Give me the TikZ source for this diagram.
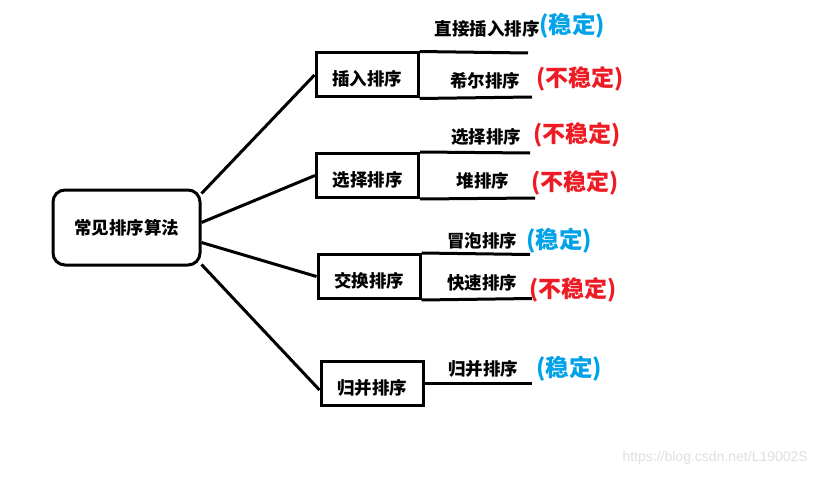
\documentclass[tikz,border=0pt]{standalone}
\usepackage{fontspec}
\newfontfamily\cjk{Noto Sans CJK SC}
\newfontfamily\wmfont{Liberation Sans}
\usepackage{tikz}
\usetikzlibrary{positioning, calc}

\definecolor{stableblue}{RGB}{0,162,232}
\definecolor{unstablered}{RGB}{237,28,36}

\begin{document}
\begin{tikzpicture}[x=1pt, y=-1pt,
  rootbox/.style={draw, line width=3pt, rounded corners=12pt, minimum width=147pt,
    minimum height=75pt, font=\cjk\bfseries\fontsize{17.5}{20}\selectfont},
  catbox/.style={draw, line width=3pt, minimum width=102pt, minimum height=44pt,
    text height=25pt, text depth=3pt, font=\cjk\bfseries\fontsize{17.5}{20}\selectfont},
  algo/.style={inner sep=0pt, font=\cjk\bfseries\fontsize{17.5}{20}\selectfont},
  stable/.style={anchor=west, inner sep=0pt, text=stableblue,
    font=\cjk\bfseries\fontsize{23.5}{26}\selectfont},
  unstable/.style={anchor=west, inner sep=0pt, text=unstablered,
    font=\cjk\bfseries\fontsize{23}{26}\selectfont},
  link/.style={line width=3pt}
]
\useasboundingbox[fill=white] (0,0) rectangle (818,476);

% root and the four groups
\node[rootbox] (root) at (126.5,227.5) {常见排序算法};
\node[catbox] (ins) at (367,75) {插入排序};
\node[catbox] (sel) at (367.5,175.5) {选择排序};
\node[catbox] (exc) at (369,276.5) {交换排序};
\node[catbox] (mer) at (372,383) {归并排序};

\draw[link] ([yshift=34]root.east) -- (ins.west);
\draw[link] ([yshift=5]root.east) -- (sel.west);
\draw[link] ([yshift=-15]root.east) -- (exc.west);
\draw[link] ([yshift=-37]root.east) -- ([yshift=-7]mer.west);

% branch ends
\coordinate (insA) at (528,53);
\coordinate (insB) at (532,97);
\coordinate (selA) at (530,153);
\coordinate (selB) at (535,198);
\coordinate (excA) at (530,254.5);
\coordinate (excB) at (532,298.5);
\coordinate (merA) at (532,383);

\draw[link] (ins.north east) -- (insA);
\draw[link] (ins.south east) -- (insB);
\draw[link] (sel.north east) -- (selA);
\draw[link] (sel.south east) -- (selB);
\draw[link] (exc.north east) -- (excA);
\draw[link] (exc.south east) -- (excB);
\draw[link] (mer.east) -- (merA);

% algorithms
\node[algo] (zhijie) at (487,29) {直接插入排序};
\node[stable] (zhijieS) at (539,26) {(稳定)};
\node[algo] (xier) at (485,81) {希尔排序};
\node[unstable] (xierS) at (536,79) {(不稳定)};

\node[algo] (xuanze) at (486,137) {选择排序};
\node[unstable] (xuanzeS) at (533,135) {(不稳定)};
\node[algo] (dui) at (483,181) {堆排序};
\node[unstable] (duiS) at (531,183) {(不稳定)};

\node[algo] (maopao) at (482,241) {冒泡排序};
\node[stable] (maopaoS) at (526,241) {(稳定)};
\node[algo] (kuaisu) at (482,283) {快速排序};
\node[unstable] (kuaisuS) at (529,290) {(不稳定)};

\node[algo] (guibing) at (483,369) {归并排序};
\node[stable] (guibingS) at (536,369) {(稳定)};

\node[anchor=east, inner sep=0pt, text=black!12, font=\wmfont\fontsize{14}{16}\selectfont]
  (wm) at (808,458) {https://blog.csdn.net/L19002S};
\end{tikzpicture}
\end{document}
